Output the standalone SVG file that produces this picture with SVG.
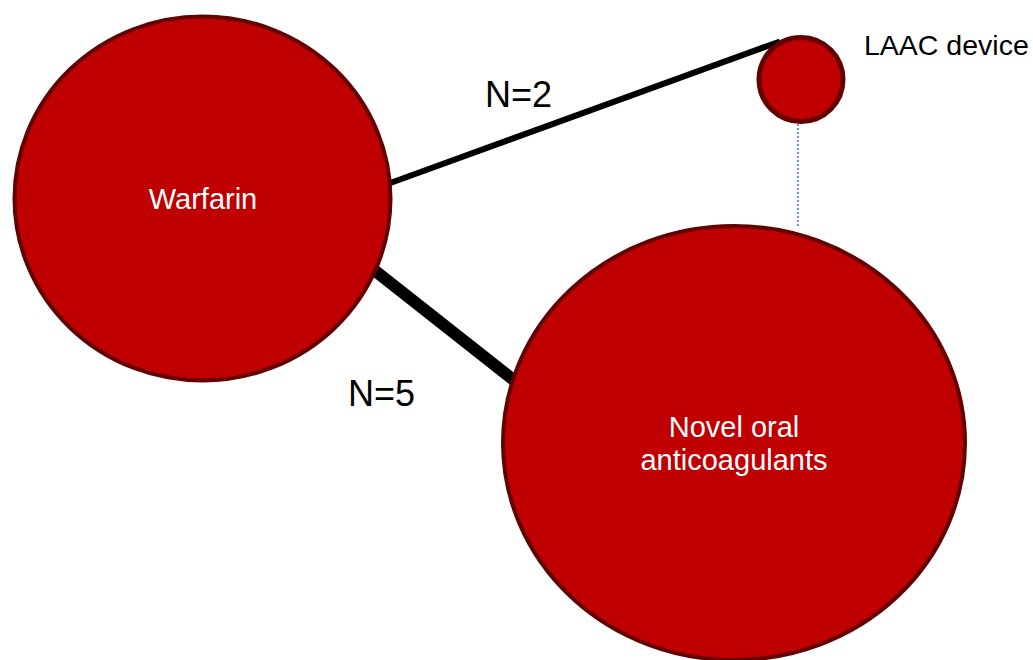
<svg xmlns="http://www.w3.org/2000/svg" width="1033" height="660" viewBox="0 0 1033 660">
  <style>
    .node { fill: #C00000; stroke: #640000; }
    .lbl { font-family: "Liberation Sans", Arial, sans-serif; fill: #ffffff; font-size: 29px; text-anchor: middle; }
    .elbl { font-family: "Liberation Sans", Arial, sans-serif; fill: #000000; font-size: 36px; }
    .edge { stroke: #000000; stroke-linecap: butt; fill: none; }
  </style>
  <rect width="1033" height="660" fill="#ffffff"/>
  <g id="connectors">
    <line class="edge" x1="380" y1="186.7" x2="780" y2="41.5" stroke-width="6"/>
    <line class="edge" x1="350" y1="251" x2="530" y2="393" stroke-width="12"/>
    <line x1="798" y1="124" x2="798" y2="228" stroke="#4472C4" stroke-width="1.5" stroke-dasharray="2 2"/>
    <text class="elbl" x="485" y="107">N=2</text>
    <text class="elbl" x="348" y="406">N=5</text>
  </g>
  <g id="node-warfarin">
    <ellipse class="node" cx="202.5" cy="198.5" rx="188" ry="182" stroke-width="4"/>
    <text class="lbl" x="203" y="209">Warfarin</text>
  </g>
  <g id="node-noac">
    <ellipse class="node" cx="734" cy="443" rx="231" ry="217" stroke-width="4"/>
    <text class="lbl" x="734" y="437">Novel oral</text>
    <text class="lbl" x="734" y="470">anticoagulants</text>
  </g>
  <g id="node-laac">
    <circle class="node" cx="801" cy="79.5" r="42" stroke-width="5"/>
    <text x="864" y="55" font-family="Liberation Sans, Arial, sans-serif" font-size="28.5" fill="#000000">LAAC device</text>
  </g>
</svg>
